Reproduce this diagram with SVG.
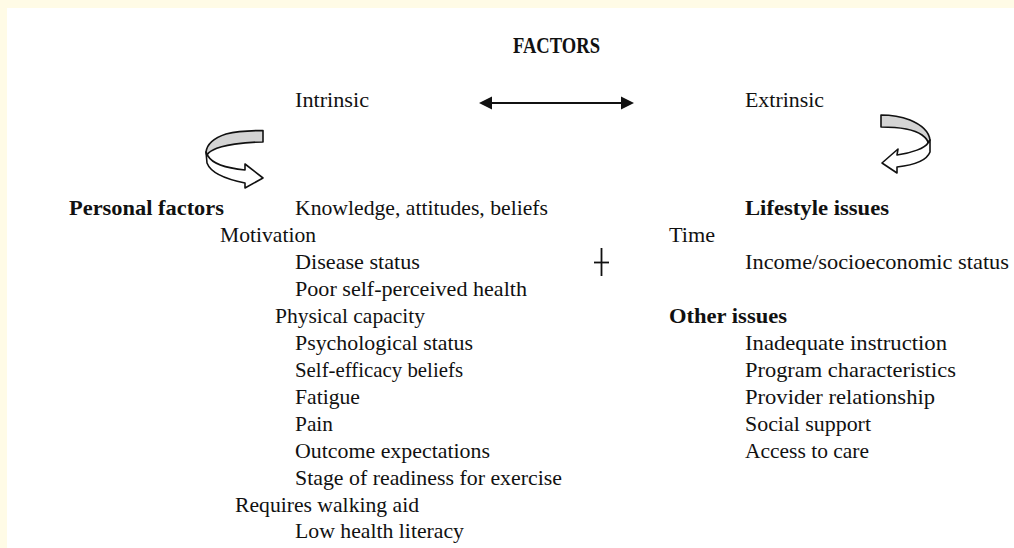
<svg xmlns="http://www.w3.org/2000/svg" width="1014" height="548" viewBox="0 0 1014 548">
<style>
  .t { font-family: "Liberation Serif", "Times New Roman", serif; font-size: 22px; fill: #111; }
  .b { font-weight: bold; }
  .band { stroke: #111; stroke-width: 1.6; stroke-linejoin: round; }
  .line { stroke: #111; stroke-width: 2; fill: none; }
</style>
<rect x="0" y="0" width="1014" height="548" fill="#ffffff"/>
<rect x="0" y="0" width="1014" height="8" fill="#fffbe6"/>
<rect x="0" y="0" width="7" height="548" fill="#fffbe6"/>

<g id="title">
  <text class="t b" x="513" y="53" style="font-size:23.5px" textLength="87" lengthAdjust="spacingAndGlyphs">FACTORS</text>
</g>

<g id="intrinsic">
  <text class="t" x="295" y="107" textLength="74" lengthAdjust="spacingAndGlyphs">Intrinsic</text>
</g>
<g id="extrinsic">
  <text class="t" x="745" y="107" textLength="79" lengthAdjust="spacingAndGlyphs">Extrinsic</text>
</g>

<g id="connectors">
  <line class="line" x1="488" y1="103" x2="625" y2="103"/>
  <polygon points="479,103 492,96.5 492,109.5" fill="#111"/>
  <polygon points="634,103 621,96.5 621,109.5" fill="#111"/>
</g>

<g id="left-turn-arrow">
  <path class="band" fill="#d4d4d4" d="M263,130.5 L263,142 C245,142 222,145 213,150 C209,152 207,154 207,156 L206,152 C207,144 214,138 226,134 C236,131.5 250,130.5 263,130.5 Z"/>
  <path class="band" fill="#ffffff" d="M206,152 L207,163 C210,171 220,178 245,183 L245,188 L263,178 L245,164 L245,170 C225,168 212,163 208,156 Z"/>
</g>

<g id="right-turn-arrow">
  <path class="band" fill="#d4d4d4" d="M881,115 L881,127 C900,127 915,130 922,135 C926,138 928,141 928,143 L930,140 C929,132 922,125 910,120 C902,117 892,115 881,115 Z"/>
  <path class="band" fill="#ffffff" d="M930,140 L930,152 C927,160 915,165 897,167 L897,173 L882,163 L898,149 L897,155 C912,153 925,148 928,143 Z"/>
</g>

<g id="cross">
  <line x1="601.5" y1="248" x2="601.5" y2="276" stroke="#111" stroke-width="1.8"/>
  <line x1="594" y1="262.5" x2="609" y2="262.5" stroke="#111" stroke-width="1.8"/>
</g>

<g id="personal-factors">
  <text class="t b" x="69" y="215" textLength="155" lengthAdjust="spacingAndGlyphs">Personal factors</text>
  <text class="t" x="295" y="215" textLength="253" lengthAdjust="spacingAndGlyphs">Knowledge, attitudes, beliefs</text>
  <text class="t" x="220" y="242" textLength="96" lengthAdjust="spacingAndGlyphs">Motivation</text>
  <text class="t" x="295" y="269" textLength="125" lengthAdjust="spacingAndGlyphs">Disease status</text>
  <text class="t" x="295" y="296" textLength="232" lengthAdjust="spacingAndGlyphs">Poor self-perceived health</text>
  <text class="t" x="275" y="323" textLength="150" lengthAdjust="spacingAndGlyphs">Physical capacity</text>
  <text class="t" x="295" y="350" textLength="178" lengthAdjust="spacingAndGlyphs">Psychological status</text>
  <text class="t" x="295" y="377" textLength="168" lengthAdjust="spacingAndGlyphs">Self-efficacy beliefs</text>
  <text class="t" x="295" y="404" textLength="65" lengthAdjust="spacingAndGlyphs">Fatigue</text>
  <text class="t" x="295" y="431" textLength="38" lengthAdjust="spacingAndGlyphs">Pain</text>
  <text class="t" x="295" y="458" textLength="195" lengthAdjust="spacingAndGlyphs">Outcome expectations</text>
  <text class="t" x="295" y="485" textLength="267" lengthAdjust="spacingAndGlyphs">Stage of readiness for exercise</text>
  <text class="t" x="235" y="512" textLength="184" lengthAdjust="spacingAndGlyphs">Requires walking aid</text>
  <text class="t" x="295" y="538" textLength="169" lengthAdjust="spacingAndGlyphs">Low health literacy</text>
</g>

<g id="lifestyle-issues">
  <text class="t b" x="745" y="215" textLength="144" lengthAdjust="spacingAndGlyphs">Lifestyle issues</text>
  <text class="t" x="669" y="242" textLength="46" lengthAdjust="spacingAndGlyphs">Time</text>
  <text class="t" x="745" y="269" textLength="264" lengthAdjust="spacingAndGlyphs">Income/socioeconomic status</text>
</g>

<g id="other-issues">
  <text class="t b" x="669" y="323" textLength="118" lengthAdjust="spacingAndGlyphs">Other issues</text>
  <text class="t" x="745" y="350" textLength="202" lengthAdjust="spacingAndGlyphs">Inadequate instruction</text>
  <text class="t" x="745" y="377" textLength="211" lengthAdjust="spacingAndGlyphs">Program characteristics</text>
  <text class="t" x="745" y="404" textLength="190" lengthAdjust="spacingAndGlyphs">Provider relationship</text>
  <text class="t" x="745" y="431" textLength="126" lengthAdjust="spacingAndGlyphs">Social support</text>
  <text class="t" x="745" y="458" textLength="124" lengthAdjust="spacingAndGlyphs">Access to care</text>
</g>
</svg>
